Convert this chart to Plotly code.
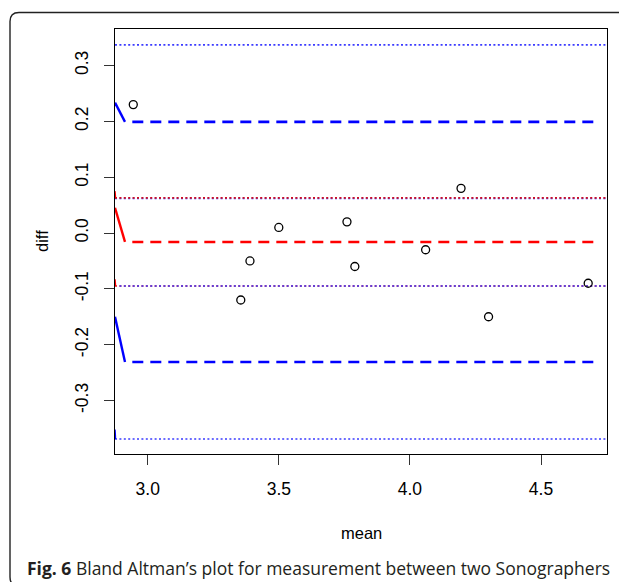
import plotly.graph_objects as go

# ---- data ----
mean_vals = [2.945, 3.355, 3.39, 3.50, 3.76, 3.79, 4.06, 4.195, 4.30, 4.68]
diff_vals = [0.23, -0.12, -0.05, 0.01, 0.02, -0.06, -0.03, 0.08, -0.15, -0.09]

mean_diff = -0.016
upper_loa = 0.199
lower_loa = -0.231
upper_loa_ci = [0.062, 0.337]
lower_loa_ci = [-0.369, -0.095]
mean_ci = [-0.095, 0.063]

x_range = [2.8753, 4.7517]
y_range = [-0.3958, 0.3654]
x_ticks = [3.0, 3.5, 4.0, 4.5]
x_tick_text = ["3.0", "3.5", "4.0", "4.5"]
y_ticks = [-0.3, -0.2, -0.1, 0.0, 0.1, 0.2, 0.3]
y_tick_text = ["-0.3", "-0.2", "-0.1", "0.0", "0.1", "0.2", "0.3"]

# line extents (data x)
x_left = x_range[0]
x_slant_end = 2.9134
x_dash_start = 2.9413
x_dash_end = 4.7086
slant_start_y = {"upper": 0.2335, "mean": 0.0453, "lower": -0.1501}

# page has an 8px body margin; figure is sized to fill the remaining window
OFF = 8
W, H = 627 - OFF, 582 - OFF
L, R, T, B = 115 - OFF, 20, 29 - OFF, 128
pw, ph = W - L - R, H - T - B

def px_x(px):  # window pixel -> paper
    return (px - OFF - L) / pw

def px_y(py):
    return (H - B - (py - OFF)) / ph

fig = go.Figure()

def hline(y, color, dash, width, x0=x_dash_start, x1=x_dash_end):
    fig.add_trace(go.Scatter(x=[x0, x1], y=[y, y], mode="lines",
                             line=dict(color=color, dash=dash, width=width),
                             hoverinfo="skip", showlegend=False))

def seg(x0, y0, x1, y1, color, width):
    fig.add_trace(go.Scatter(x=[x0, x1], y=[y0, y1], mode="lines",
                             line=dict(color=color, width=width),
                             hoverinfo="skip", showlegend=False))

dot = "2px,2.4px"
# dotted CI lines
hline(upper_loa_ci[1], "#3b3bff", dot, 1.6, x_left, x_range[1])
hline(upper_loa_ci[0], "#3b3bff", dot, 1.6, x_left, x_range[1])
hline(mean_ci[1], "#d4101c", dot, 1.7, x_left, x_range[1])
hline(mean_ci[0], "#e0101c", dot, 1.6, x_left, x_range[1])
hline(lower_loa_ci[1], "#3b3bff", dot, 1.6, x_left + 0.017, x_range[1])
hline(lower_loa_ci[0], "#3b3bff", dot, 1.6, x_left, x_range[1])

# small clipped segments at the left edge
seg(x_left, mean_ci[1] + 0.012, x_left + 0.002, mean_ci[1], "red", 1.5)
seg(x_left, mean_ci[0] + 0.012, x_left + 0.002, mean_ci[0], "red", 1.5)
seg(x_left, lower_loa_ci[0] + 0.017, x_left + 0.002, lower_loa_ci[0], "blue", 1.5)

# dashed mean and limits of agreement
dash = "11px,7px"
hline(upper_loa, "#0000ff", dash, 2.6)
hline(mean_diff, "#ff0000", dash, 2.6)
hline(lower_loa, "#0000ff", dash, 2.6)

# slanted solid segments at the left
seg(x_left, slant_start_y["upper"], x_slant_end, upper_loa, "#0000ff", 2.4)
seg(x_left, slant_start_y["mean"], x_slant_end, mean_diff, "#ff0000", 2.4)
seg(x_left, slant_start_y["lower"], x_slant_end, lower_loa, "#0000ff", 2.4)

# points
fig.add_trace(go.Scatter(x=mean_vals, y=diff_vals, mode="markers",
                         marker=dict(symbol="circle-open", size=8,
                                     color="black", line=dict(width=1.3, color="black")),
                         showlegend=False))

axis_font = dict(family="Liberation Sans, Arial, sans-serif", size=16.5, color="black")
tick_font = dict(family="Liberation Sans, Arial, sans-serif", size=17.5, color="black")

fig.update_xaxes(range=x_range, tickvals=x_ticks, ticktext=x_tick_text,
                 showgrid=False, zeroline=False, showline=True, mirror=True,
                 linecolor="black", linewidth=1.2, ticks="outside", ticklen=10,
                 tickcolor="#333", tickwidth=1.2, tickfont=tick_font,
                 ticklabelstandoff=9)
fig.update_yaxes(range=y_range, tickvals=y_ticks, ticktext=y_tick_text,
                 showgrid=False, zeroline=False, showline=True, mirror=True,
                 linecolor="black", linewidth=1.2, ticks="outside", ticklen=10,
                 tickcolor="#333", tickwidth=1.2, tickfont=tick_font,
                 tickangle=-90, ticklabelstandoff=9)

# frame: rounded rectangle (partly beyond the page)
fx0, fx1 = px_x(10), px_x(629)
fy0, fy1 = px_y(12.5), px_y(586)
rx, ry = 9 / pw, 9 / ph
path = (f"M {fx0+rx},{fy0} L {fx1-rx},{fy0} Q {fx1},{fy0} {fx1},{fy0-ry} "
        f"L {fx1},{fy1+ry} Q {fx1},{fy1} {fx1-rx},{fy1} "
        f"L {fx0+rx},{fy1} Q {fx0},{fy1} {fx0},{fy1+ry} "
        f"L {fx0},{fy0-ry} Q {fx0},{fy0} {fx0+rx},{fy0} Z")
fig.add_shape(type="path", xref="paper", yref="paper", path=path,
              line=dict(color="#222", width=1.4), layer="below")

fig.add_annotation(text="mean", xref="paper", yref="paper",
                   x=px_x(361), y=px_y(533), showarrow=False,
                   xanchor="center", yanchor="middle", font=axis_font)
fig.add_annotation(text="diff", xref="paper", yref="paper",
                   x=px_x(42), y=px_y(241), showarrow=False, textangle=-90,
                   xanchor="center", yanchor="middle", font=axis_font)
fig.add_annotation(text="<b>Fig. 6</b> Bland Altman’s plot for measurement between two Sonographers",
                   xref="paper", yref="paper", x=px_x(25), y=px_y(568),
                   showarrow=False, xanchor="left", yanchor="middle",
                   font=dict(family="Open Sans, Noto Sans, sans-serif", size=17.5, color="#231f20"))

fig.update_layout(width=W, height=H, margin=dict(l=L, r=R, t=T, b=B, autoexpand=False),
                  plot_bgcolor="white", paper_bgcolor="white")

fig.write_html("out.html")
